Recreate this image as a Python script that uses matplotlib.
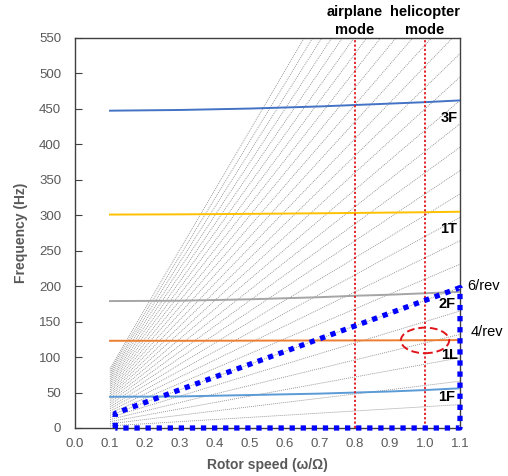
import matplotlib
matplotlib.use("Agg")
import matplotlib.pyplot as plt
from matplotlib.patches import Ellipse
import numpy as np

# ---- data ----
rotor_speed = [0.1, 0.3, 0.5, 0.7, 0.8, 0.9, 1.0, 1.1]
mode_3F = [447.5, 448.5, 450.5, 453.5, 455.5, 457.5, 459.5, 462.0]
mode_1T = [301.0, 301.3, 302.0, 302.8, 303.3, 303.8, 304.3, 305.0]
mode_2F = [179.0, 179.5, 181.5, 184.5, 186.5, 188.0, 190.0, 192.0]
mode_1L = [123.0, 123.0, 123.2, 123.4, 123.5, 123.6, 123.8, 124.0]
mode_1F = [44.0, 44.5, 46.5, 48.5, 50.0, 51.5, 53.5, 56.0]
mode_names = ["3F", "1T", "2F", "1L", "1F"]
mode_colors = ["#4472C4", "#FFC000", "#A5A5A5", "#ED7D31", "#5B9BD5"]

rev_orders = list(range(1, 29))     # per-rev excitation lines
rev_base_hz = 30.0                  # 1/rev frequency at omega/Omega = 1
rev_x_range = [0.1, 1.1]

op_modes = ["airplane\nmode", "helicopter\nmode"]
op_speeds = [0.8, 1.0]

region_order = 6
region_x = [0.115, 1.1]

x_ticks = [0.0, 0.1, 0.2, 0.3, 0.4, 0.5, 0.6, 0.7, 0.8, 0.9, 1.0, 1.1]
y_ticks = [0, 50, 100, 150, 200, 250, 300, 350, 400, 450, 500, 550]

# ---- figure ----
plt.rcParams['font.family'] = ['Liberation Sans', 'DejaVu Sans']
fig = plt.figure(figsize=(5.08, 4.76), dpi=100)
ax = fig.add_axes([75/508, 48/476, 385/508, 390/476])

# per-rev fan
xr = np.array(rev_x_range)
for n in rev_orders:
    ax.plot(xr, n * rev_base_hz * xr, color="#8E8E8E", lw=0.6,
            ls=(0, (1.2, 1.2)), zorder=1)

# modes
for vals, name, col in zip([mode_3F, mode_1T, mode_2F, mode_1L, mode_1F],
                           mode_names, mode_colors):
    ax.plot(rotor_speed, vals, color=col, lw=1.4, zorder=3)

# operating speeds
for s in op_speeds:
    ax.plot([s, s], [0, 550], color="#E0151B", lw=1.3, ls=(0, (1.2, 1.2)), zorder=4)

# region polygon
x0, x1 = region_x
poly_x = [x0, x0, x1, x1, x0]
poly_y = [0, region_order * rev_base_hz * x0, region_order * rev_base_hz * x1, 0, 0]
ax.plot(poly_x, poly_y, color="#0000FF", lw=3.8, ls=(0, (1, 1.1)),
        zorder=5, clip_on=False, solid_capstyle='butt', dash_capstyle='butt')

# ellipse
ax.add_patch(Ellipse((1.0, 123.5), 0.138, 36, fill=False, ec="#E0151B",
                     lw=1.4, ls=(0, (4, 2)), zorder=6))

# labels of modes
lbl = dict(fontsize=10.5, fontweight='bold', color='black', ha='center', va='center', zorder=7)
ax.text(1.07, 437, "3F", **lbl)
ax.text(1.066, 280, "1T", **lbl)
ax.text(1.063, 175, "2F", **lbl)
ax.text(1.07, 103, "1L", **lbl)
ax.text(1.063, 44, "1F", **lbl)
ax.text(1.168, 200, "6/rev", fontsize=10.5, color='black',
        ha='center', va='center', clip_on=False)
ax.text(1.178, 135, "4/rev", fontsize=10.5, color='black',
        ha='center', va='center', clip_on=False)
for s, t in zip(op_speeds, op_modes):
    ax.text(s, 552, t, fontsize=10.5, fontweight='bold', color='black',
            ha='center', va='bottom', linespacing=1.3, clip_on=False)

ax.set_xlim(0, 1.1)
ax.set_ylim(0, 550)
ax.set_xticks(x_ticks)
ax.set_xticklabels([f"{v:.1f}" for v in x_ticks])
ax.set_yticks(y_ticks)
ax.tick_params(axis='y', direction='in', length=5, colors='#404040',
               labelcolor='#595959', labelsize=9.5, pad=10)
ax.tick_params(axis='x', length=0, labelcolor='#595959', labelsize=9.5, pad=7)
for sp in ax.spines.values():
    sp.set_color('#404040')
    sp.set_linewidth(1.0)

ax.set_xlabel("Rotor speed (ω/Ω)", fontsize=10, fontweight='bold', color='#595959', labelpad=6)
ax.set_ylabel("Frequency (Hz)", fontsize=10, fontweight='bold', color='#595959', labelpad=8)

fig.savefig("out.png", dpi=100)
